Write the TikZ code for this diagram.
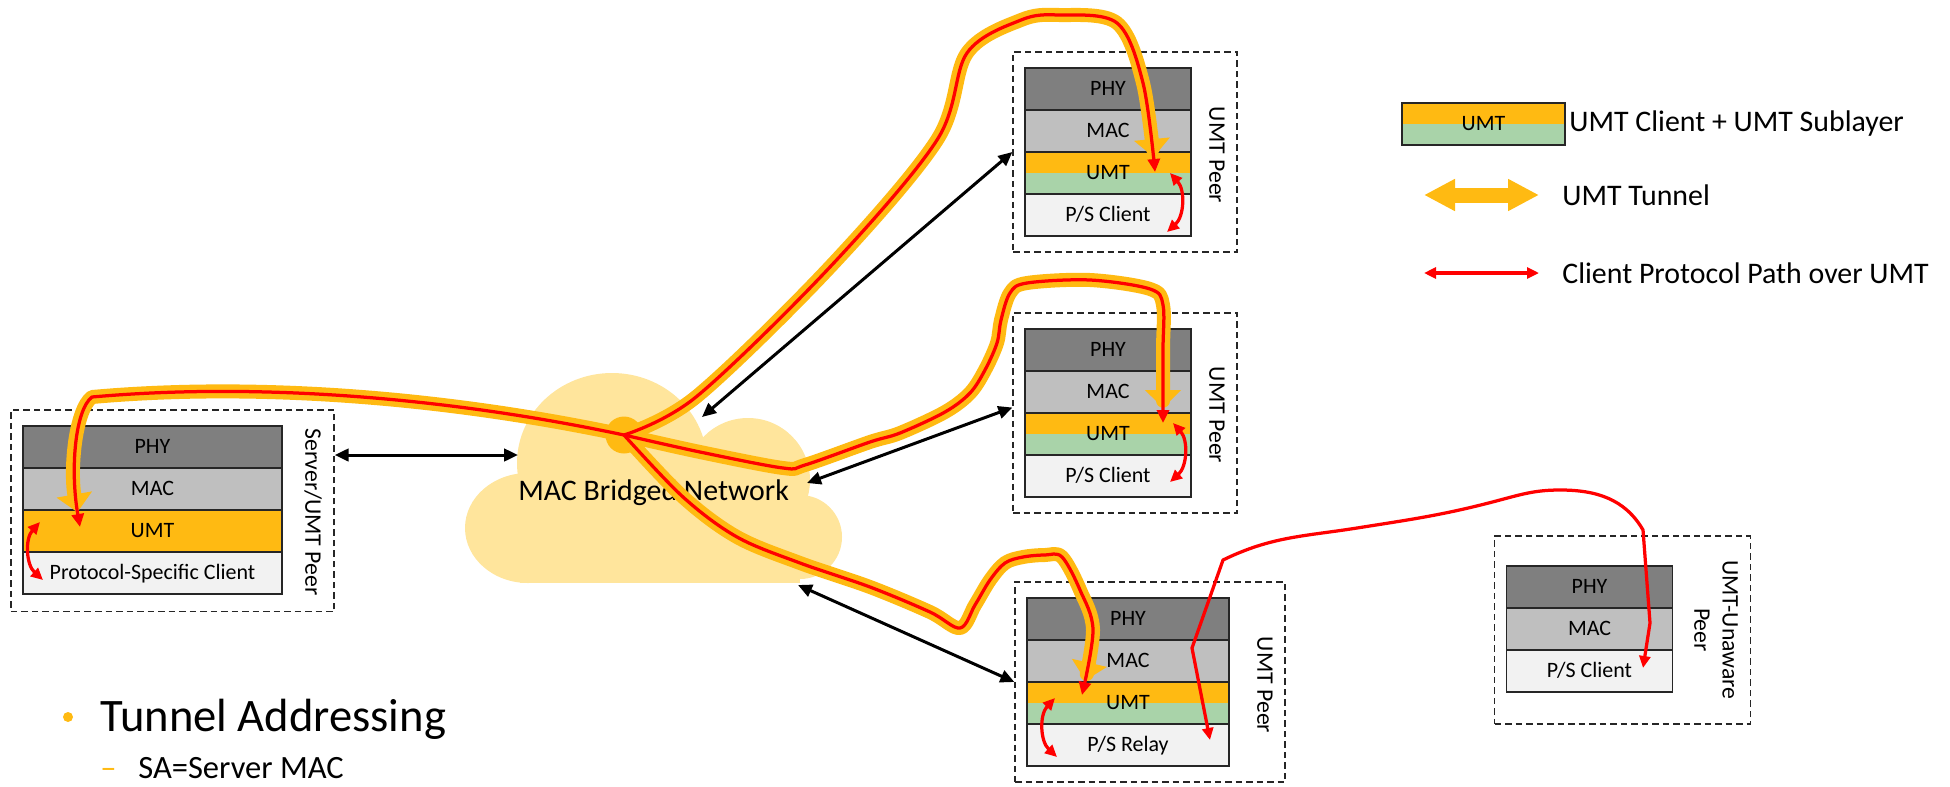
\documentclass[tikz,border=0pt]{standalone}
\usepackage{fontspec}
\setmainfont{Carlito}
\usetikzlibrary{arrows.meta,fit,positioning}

\definecolor{phygray}{HTML}{7F7F7F}
\definecolor{macgray}{HTML}{BFBFBF}
\definecolor{umtorange}{HTML}{FFBA12}
\definecolor{umtgreen}{HTML}{A9D3A9}
\definecolor{cligray}{HTML}{F2F2F2}
\definecolor{cloudfill}{HTML}{FFE59C}

\begin{document}
\begin{tikzpicture}[x=0.2mm, y=-0.2mm]
 \tikzstyle{layer}=[rectangle, draw=black!85, line width=0.3mm, inner sep=0pt, outer sep=0pt, minimum height=8.4mm, text height=7.9pt, text depth=0pt, font=\fontsize{12.5}{14}\selectfont]
 \tikzstyle{phy}=[layer, fill=phygray]
 \tikzstyle{mac}=[layer, fill=macgray]
 \tikzstyle{umt}=[layer, fill=umtorange]
 \tikzstyle{umtsub}=[layer, fill=umtorange, path picture={\fill[umtgreen] (path picture bounding box.west) rectangle (path picture bounding box.south east);}]
 \tikzstyle{cli}=[layer, fill=cligray]
 \tikzstyle{wsrv}=[minimum width=51.8mm]
 \tikzstyle{wpeer}=[minimum width=33.2mm]
 \tikzstyle{wrelay}=[minimum width=40.4mm]
 \tikzstyle{peerbox}=[rectangle, draw=black!85, line width=0.25mm, dash pattern=on 1.3mm off 0.8mm, inner xsep=2.4mm, inner ysep=3.2mm]
 \tikzstyle{peerlabel}=[rotate=-90, inner sep=0pt, align=center, font=\fontsize{13.5}{16}\selectfont]
 \tikzstyle{connect}=[{Triangle[length=2.8mm,width=2.5mm]}-{Triangle[length=2.8mm,width=2.5mm]}, line width=0.6mm]
 \tikzstyle{tunnel}=[draw=umtorange, line width=2.8mm, line join=round, shorten >=3mm, -{Triangle[length=3.6mm,width=7mm]}]
 \tikzstyle{proto}=[draw=red, line width=0.65mm, line join=round, -{Triangle[length=2.6mm,width=2.4mm]}]
 \tikzstyle{protoboth}=[draw=red, line width=0.65mm, line join=round, {Triangle[length=2.4mm,width=2.2mm]}-{Triangle[length=2.4mm,width=2.2mm]}]
 \tikzstyle{bigtext}=[inner sep=0pt, font=\fontsize{17}{20}\selectfont]
 \useasboundingbox (0,0) rectangle (1950,786);

 % server / UMT peer
 \node[phy, wsrv] (phy0) at (152.5,447) {PHY};
 \node[mac, wsrv, below=0mm of phy0] (mac0) {MAC};
 \node[umt, wsrv, below=0mm of mac0] (umt0) {UMT};
 \node[cli, wsrv, below=0mm of umt0] (cli0) {Protocol-Specific Client};
 \node[peerlabel] (lab0) at (313,512) {Server/UMT Peer};
 \node[peerbox, fit=(phy0)(cli0)(lab0)] (box0) {};

 % UMT peers
 \node[phy, wpeer] (phy1) at (1108,89) {PHY};
 \node[mac, wpeer, below=0mm of phy1] (mac1) {MAC};
 \node[umtsub, wpeer, below=0mm of mac1] (umt1) {UMT};
 \node[cli, wpeer, below=0mm of umt1] (cli1) {P/S Client};
 \node[peerlabel] (lab1) at (1217,155) {UMT Peer};
 \node[peerbox, fit=(phy1)(cli1)(lab1)] (box1) {};

 \node[phy, wpeer] (phy2) at (1108,350) {PHY};
 \node[mac, wpeer, below=0mm of phy2] (mac2) {MAC};
 \node[umtsub, wpeer, below=0mm of mac2] (umt2) {UMT};
 \node[cli, wpeer, below=0mm of umt2] (cli2) {P/S Client};
 \node[peerlabel] (lab2) at (1217,415) {UMT Peer};
 \node[peerbox, fit=(phy2)(cli2)(lab2)] (box2) {};

 \node[phy, wrelay] (phy3) at (1128,619) {PHY};
 \node[mac, wrelay, below=0mm of phy3] (mac3) {MAC};
 \node[umtsub, wrelay, below=0mm of mac3] (umt3) {UMT};
 \node[cli, wrelay, below=0mm of umt3] (cli3) {P/S Relay};
 \node[peerlabel] (lab3) at (1265,685) {UMT Peer};
 \node[peerbox, fit=(phy3)(cli3)(lab3)] (box3) {};

 % UMT-unaware peer
 \node[phy, wpeer] (phy4) at (1589.5,587) {PHY};
 \node[mac, wpeer, below=0mm of phy4] (mac4) {MAC};
 \node[cli, wpeer, below=0mm of mac4] (cli4) {P/S Client};
 \node[peerlabel] (lab4) at (1716,630) {UMT-Unaware\\Peer};
 \node[peerbox, inner ysep=4.8mm, fit=(phy4)(cli4)(lab4)] (box4) {};

 % bridged network
 \fill[cloudfill] (612,463) ellipse [x radius=19mm, y radius=18mm];
 \fill[cloudfill] (748,480) circle [radius=12.4mm];
 \fill[cloudfill] (800,537) circle [radius=8.4mm];
 \fill[cloudfill] (528,528) ellipse [x radius=12.6mm, y radius=11mm];
 \fill[cloudfill] (520,500) rectangle (800,583);
 \node[bigtext, anchor=base west] (net) at (518,500) {MAC Bridged Network};

 \coordinate (nw0) at (518,455);
 \coordinate (nw1) at (702,417);
 \coordinate (nw2) at (807,483);
 \coordinate (nw3) at (798,585);
 \path (box0.east |- nw0) edge [connect] (nw0)
 (nw1) edge [connect] (box1.west)
 (nw2) edge [connect] ([yshift=1.1mm]box2.west)
 (nw3) edge [connect] (box3.west);

 % tunnels
 \node[circle, fill=umtorange, minimum size=7.4mm, inner sep=0pt] (hub) at (624,435) {};
 \def\tunsrv{(hub.center) .. controls (450,398) and (260,382) .. (92,397) .. controls (75,410) and (70,470) .. (80,527)}
 \def\tunone{plot[smooth, tension=0.55] coordinates {(hub.center) (696,397) (830,267) (937,140) (967,53) (1021,20) (1059,15) (1117,23) (1143,83) (1155,172)}}
 \def\tuntwo{plot[smooth, tension=0.55] coordinates {(hub.center) (700,452) (783,468) (805,465) (870,442) (900,433) (945,412) (970,393) (985,370) (997,343) (1001,320) (1010,293) (1027,283) (1090,280) (1150,289) (1163,305) (1163,350) (1163,423)}}
 \def\tunthree{plot[smooth, tension=0.55] coordinates {(hub.center) (683,497) (737,537) (800,563) (870,587) (930,612) (960,628) (975,605) (990,580) (1005,563) (1023,557) (1045,555) (1062,557) (1080,590) (1093,630) (1082,695)}}
 \draw[tunnel] \tunsrv;
 \draw[tunnel] \tunone;
 \draw[tunnel] \tuntwo;
 \draw[tunnel] \tunthree;
 \draw[proto] \tunsrv;
 \draw[proto] \tunone;
 \draw[proto] \tuntwo;
 \draw[proto] \tunthree;

 % client protocol paths
 \coordinate (rly) at (1210,740);
 \coordinate (uac) at (1643,668);
 \draw[protoboth] (rly) -- (1192,648) -- (1223,560) to[out=26,in=189] (1357,528) to[out=9,in=195] (1500,500) to[out=15,in=180] (1560,490) to[out=0,in=120] (1643,530) -- (1650,623) -- (uac);
 \coordinate (s0a) at (40,522);
 \coordinate (s0b) at (43,580);
 \coordinate (s1a) at (1170,173);
 \coordinate (s1b) at (1167,232);
 \coordinate (s2a) at (1173,423);
 \coordinate (s2b) at (1170,482);
 \coordinate (s3a) at (1055,698);
 \coordinate (s3b) at (1057,757);
 \draw[protoboth] (s0a) to[bend right=45] (s0b);
 \draw[protoboth] (s1a) to[bend left=45] (s1b);
 \draw[protoboth] (s2a) to[bend left=45] (s2b);
 \draw[protoboth] (s3a) to[bend right=45] (s3b);

 % legend
 \node[umtsub, minimum width=32.6mm] (legumt) at (1483.5,124) {UMT};
 \node[bigtext, right=0.8mm of legumt] (leg1) {UMT Client + UMT Sublayer};
 \coordinate (lt0) at (1424,195);
 \coordinate (lt1) at (1539,195);
 \draw[umtorange, line width=3mm, {Triangle[length=6.2mm,width=6mm]}-{Triangle[length=6.2mm,width=6mm]}] (lt0) -- (lt1);
 \node[bigtext, right=4.6mm of lt1] (leg2) {UMT Tunnel};
 \coordinate (lp0) at (1424,273);
 \coordinate (lp1) at (1539,273);
 \draw[protoboth] (lp0) -- (lp1);
 \node[bigtext, right=4.6mm of lp1] (leg3) {Client Protocol Path over UMT};

 % addressing
 \node[circle, fill=umtorange, minimum size=2mm, inner sep=0pt] (dot) at (68,717) {};
 \node[anchor=base west, inner sep=0pt, font=\fontsize{26.5}{30}\selectfont] (addr) at (100,731) {Tunnel Addressing};
 \node[anchor=base west, inner sep=0pt, text=umtorange, font=\fontsize{18.5}{22}\selectfont] (dash) at (100,778) {–};
 \node[anchor=base west, inner sep=0pt, font=\fontsize{18.5}{22}\selectfont] (sa) at (138,778) {SA=Server MAC};
\end{tikzpicture}
\end{document}
